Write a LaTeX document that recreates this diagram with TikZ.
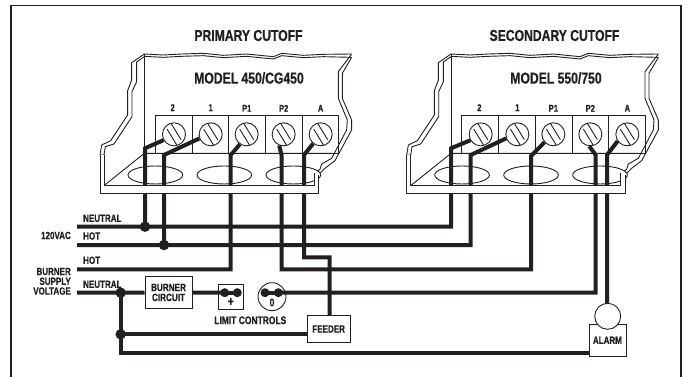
\documentclass[tikz,border=0pt]{standalone}
\usepackage{fontspec}
\setmainfont[FakeStretch=0.77,BoldFeatures={FakeBold=0.6}]{Liberation Sans}
\definecolor{ink}{HTML}{231F20}
\tikzset{
  thin line/.style={draw=ink,line width=0.9pt,line join=round},
  swire/.style={draw=ink,line width=4pt,line join=miter},
  lab/.style={font=\bfseries\fontsize{10.4}{11}\selectfont,text=ink,inner sep=0pt},
  title/.style={font=\bfseries\fontsize{15.8}{17}\selectfont,text=ink,inner sep=0pt},
  termlab/.style={font=\bfseries\fontsize{9.8}{11}\selectfont,text=ink,inner sep=0pt},
  boxn/.style={draw=ink,line width=1pt,fill=white,inner sep=0pt},
  dotn/.style={circle,fill=ink,inner sep=0pt,minimum size=9pt},
  bigdot/.style={circle,fill=ink,inner sep=0pt,minimum size=10.5pt},
  screw/.style={circle,draw=ink,line width=0.9pt,fill=white,inner sep=0pt,minimum size=23pt}
}
% #1 origin x of the unit, #2 prefix of the node names
\newcommand{\unitback}[2]{%
\begin{scope}[shift={(#1,40)},x=0.3333pt,y=-0.3333pt]
  \draw[thin line] (163,42) -- (220,45) -- (275,42) -- (340,40) -- (400,46) -- (470,42) -- (550,50) -- (575,40) -- (640,46) -- (700,43) -- (785,42);
  \draw[thin line] (163,49) -- (220,52) -- (275,49) -- (340,47) -- (400,53) -- (470,49) -- (550,57) -- (575,47) -- (640,53) -- (700,50) -- (785,52);
  \draw[thin line] (163,42) -- (163,340);
  % left flange
  \draw[thin line] (163,42) -- (125,68) -- (125,120) -- (113,152) -- (113,225) -- (62,302) -- (35,315) -- (30,345);
  \draw[thin line] (163,50) -- (140,66) -- (140,125) -- (126,155) -- (126,230) -- (72,312) -- (46,320) -- (42,345) -- (30,345);
  % right flange
  \draw[thin line] (785,42) -- (745,95) -- (745,175) -- (772,240) -- (770,270) -- (725,355) -- (695,372) -- (690,388) -- (672,400);
  \draw[thin line] (785,52) -- (757,100) -- (757,175) -- (785,240) -- (785,270) -- (735,362) -- (705,385) -- (685,405);
  % floor
  \draw[thin line] (42,437) -- (163,340) -- (725,340);
  % terminal block
  \foreach \a/\b in {195/306,306/416,416/526,526/636,636/745}
    \draw[thin line] (\a,225) rectangle (\b,340);
  % holes
  \foreach \c in {196,403,610}
    \draw[thin line,fill=white] (\c,405) ellipse [x radius=82,y radius=27];
  % screws
  \foreach \c/\n in {252/a,362/b,470/c,581/d,692/e}{
    \node[screw] (#2\n) at (\c,283) {};
    \draw[thin line] (\c-21,283-16) -- (\c+9,283+33);
    \draw[thin line] (\c-9,283-33) -- (\c+21,283+16);
  }
  % terminal labels
  \node[termlab] at (248,203) {2};
  \node[termlab] at (362,203) {1};
  \node[termlab] at (470,205) {P1};
  \node[termlab] at (581,205) {P2};
  \node[termlab] at (692,205) {A};
\end{scope}}
\newcommand{\unitlip}[1]{%
\begin{scope}[shift={(#1,40)},x=0.3333pt,y=-0.3333pt]
  \fill[white] (30,434) rectangle (685,461);
  \fill[white] (30,345) rectangle (42,437);
  \fill[white] (672,400) -- (685,405) -- (685,437) -- (672,437) -- cycle;
  \draw[thin line] (30,345) -- (30,460) -- (685,460) -- (685,405);
  \draw[thin line] (42,345) -- (42,437) -- (672,437) -- (672,400);
\end{scope}}
\begin{document}
\begin{tikzpicture}[x=1pt,y=-1pt]
\useasboundingbox (0,0) rectangle (688,377);
\fill[white] (0,0) rectangle (688,377);
% frame
\draw[draw=ink,line width=1.2pt] (11,377) -- (11,5.5) -- (681,5.5) -- (681,377);
\node[title] at (248.5,35.5) {PRIMARY CUTOFF};
\node[title] at (554.5,35.5) {SECONDARY CUTOFF};

\unitback{90}{p}
\unitback{396.7}{s}
\node[title] at (249,78) {MODEL 450/CG450};
\node[title] at (556,78) {MODEL 550/750};

% free ends and junctions
\coordinate (nl) at (77,226.7);
\coordinate (hl) at (77,245);
\coordinate (bl) at (77,269.3);
\coordinate (vl) at (77,292.7);

% devices
\node[boxn,minimum width=47pt,minimum height=32.5pt] (burner) at (168.5,292.5) {};
\node[boxn,minimum width=43pt,minimum height=26.5pt] (feeder) at (328.7,329) {};
\node[boxn,minimum width=37pt,minimum height=32.5pt] (alarm) at (607.8,340.5) {};
\node[boxn,minimum width=24.6pt,minimum height=24.7pt] (plus) at (231,297.3) {};
\node[circle,draw=ink,line width=0.9pt,fill=white,inner sep=0pt,minimum size=28pt] (zero) at (272,296.7) {};

\node[bigdot] (j1) at (145,226.7) {};
\node[bigdot] (j2) at (164,245) {};
\node[bigdot] (j3) at (120.7,292.7) {};
\node[bigdot] (j4) at (120.7,334.3) {};
\node[dotn] (d1) at (224.7,292.7) {};
\node[dotn] (d2) at (237.3,292.7) {};
\node[dotn] (d3) at (265,292.7) {};
\node[dotn] (d4) at (278.3,292.7) {};

% primary wires
\draw[swire] (pa.209) -- (145,148.3) -- (j1.center);
\draw[swire] (pb.200) -- (164,155) -- (j2.center);
\draw[swire] (pc.236) -- (230.7,155) -- (230.7,269.3) -- (bl);
\draw[swire] (pd.248) -- (281.5,155) -- (281.5,269.3) -- (531,269.3) -- (531,156) -- (sc.222);
\draw[swire] (pe.231) -- (304,155) -- (304,257.3) -- (329.7,257.3) -- (329.7,315.7);
% secondary wires
\draw[swire] (sa.210) -- (451,148.3) -- (451,226.7) -- (nl);
\draw[swire] (sb.200) -- (470.7,155) -- (470.7,245) -- (hl);
\draw[swire] (sd.265) -- (595.7,155) -- (595.7,292.7) -- (d4.center);
\draw[swire] (se.215) -- (607,155) -- (607,303.3);
% low voltage run
\draw[swire] (vl) -- (burner.west);
\draw[swire] (burner.east) -- (d1.center);
\draw[swire] (d1.center) -- (d2.center);
\draw[swire] (d3.center) -- (d4.center);
\draw[swire] (j3.center) -- (120.7,352.7) -- (alarm.west |- 0,352.7);
\draw[swire] (j4.center) -- (feeder.west |- j4);

\unitlip{90}
\unitlip{396.7}

% alarm bell and device texts
\node[circle,draw=ink,line width=0.9pt,fill=white,inner sep=0pt,minimum size=26pt] (bell) at (607.7,316.3) {};
\node[lab,align=center,font=\bfseries\fontsize{10.6}{10}\selectfont] at (burner) {BURNER\\CIRCUIT};
\node[lab] at (feeder) {FEEDER};
\node[lab] at (607.4,340.3) {ALARM};
\node[lab,font=\bfseries\fontsize{13}{13}\selectfont] at (230.7,302) {+};
\node[lab,font=\bfseries\fontsize{11}{11}\selectfont] at (272,302.5) {0};
\node[lab,font=\bfseries\fontsize{11}{11}\selectfont] at (250.3,320.3) {LIMIT CONTROLS};

% left labels
\node[lab,anchor=west] at (83,218.3) {NEUTRAL};
\node[lab,anchor=west] at (83,236) {HOT};
\node[lab,anchor=west] at (83,260.3) {HOT};
\node[lab,anchor=west] at (83,284.3) {NEUTRAL};
\node[lab,anchor=east] at (71,235.5) {120VAC};
\node[lab,anchor=east] at (71,271.5) {BURNER};
\node[lab,anchor=east] at (71,281.3) {SUPPLY};
\node[lab,anchor=east] at (71,291) {VOLTAGE};
\end{tikzpicture}
\end{document}
